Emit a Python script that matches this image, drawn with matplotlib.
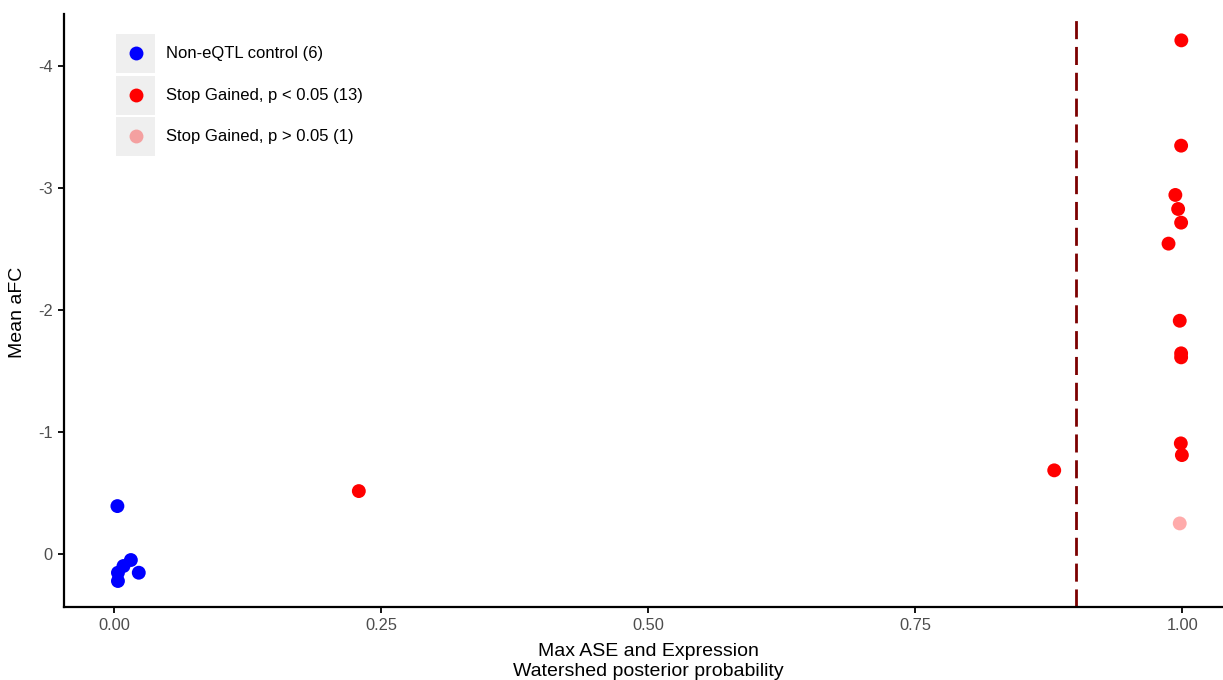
import matplotlib
matplotlib.use("Agg")
import matplotlib.pyplot as plt
from matplotlib.patches import Rectangle
from matplotlib.lines import Line2D

plt.rcParams['font.family'] = ['Liberation Sans', 'DejaVu Sans']

# Watershed posterior probability (x) and mean aFC (y) per variant group
control_x = [0.003, 0.0035, 0.0035, 0.0087, 0.0156, 0.023]
control_y = [-0.393, 0.221, 0.153, 0.098, 0.049, 0.153]

sig_x = [0.229, 0.880, 0.999, 0.9988, 0.9934, 0.996, 0.9988, 0.987,
         0.9975, 0.9988, 0.9988, 0.9985, 0.9995]
sig_y = [-0.516, -0.686, -4.21, -3.347, -2.943, -2.828, -2.716, -2.544,
         -1.912, -1.645, -1.612, -0.907, -0.811]

nonsig_x = [0.9975]
nonsig_y = [-0.251]

threshold = 0.9

labels = ["Non-eQTL control (6)", "Stop Gained, p < 0.05 (13)",
          "Stop Gained, p > 0.05 (1)"]
xtick_vals = [0, 0.25, 0.5, 0.75, 1.0]
xtick_labels = ["0.00", "0.25", "0.50", "0.75", "1.00"]
ytick_vals = [-4, -3, -2, -1, 0]
ytick_labels = ["-4", "-3", "-2", "-1", "0"]

W, H = 1223, 680
fig = plt.figure(figsize=(W / 100, H / 100), dpi=100)
ax = fig.add_axes([64 / W, (H - 607) / H, 1 - 64 / W, (607 - 14) / H])

ax.scatter(control_x, control_y, s=100, color='#0000FF', edgecolors='none', zorder=3)
ax.scatter(sig_x, sig_y, s=100, color='#FF0000', edgecolors='none', zorder=3)
ax.scatter(nonsig_x, nonsig_y, s=100, color='#FF0000', alpha=0.33,
           edgecolors='none', zorder=3)

ax.axvline(threshold, color='#7B0000', lw=2, dashes=(6.5, 2.8), zorder=2)

ax.set_xlim(-0.047, 1.038)
ax.set_ylim(0.434, -4.426)
ax.set_xticks(xtick_vals)
ax.set_xticklabels(xtick_labels)
ax.set_yticks(ytick_vals)
ax.set_yticklabels(ytick_labels)

for side in ('top', 'right'):
    ax.spines[side].set_visible(False)
for side in ('left', 'bottom'):
    ax.spines[side].set_linewidth(1.6)
    ax.spines[side].set_color('black')
ax.tick_params(axis='both', length=4, width=1.3, color='black',
               labelsize=11.8, labelcolor='#4D4D4D', pad=4)

# Axis titles
fig.text(648 / W, (H - 651) / H, "Max ASE and Expression", fontsize=14,
         ha='center', va='center', color='black')
fig.text(648 / W, (H - 671) / H, "Watershed posterior probability", fontsize=14,
         ha='center', va='center', color='black')
fig.text(18 / W, (H - 312) / H, "Mean aFC", fontsize=14, rotation=90,
         ha='center', va='center', color='black')

# Legend with grey key boxes
rows = [(34, 73), (76, 115), (117, 156)]
for (top, bot), lab, alpha in zip(rows, labels, [1.0, 1.0, 0.33]):
    col = '#0000FF' if lab.startswith("Non") else '#FF0000'
    fig.add_artist(Rectangle((116 / W, (H - bot) / H), 39 / W, (bot - top) / H,
                             transform=fig.transFigure, facecolor='#EFEFEF',
                             edgecolor='none'))
    cy = (H - (top + bot) / 2) / H
    fig.add_artist(Line2D([135.5 / W], [cy + 1 / H], marker='o', markersize=10,
                          markerfacecolor=col, markeredgecolor='none',
                          alpha=alpha, linestyle='none',
                          transform=fig.transFigure))
    fig.text(166 / W, cy, lab, fontsize=12, color='black', va='center',
             ha='left')

fig.savefig("out.png", dpi=100)
